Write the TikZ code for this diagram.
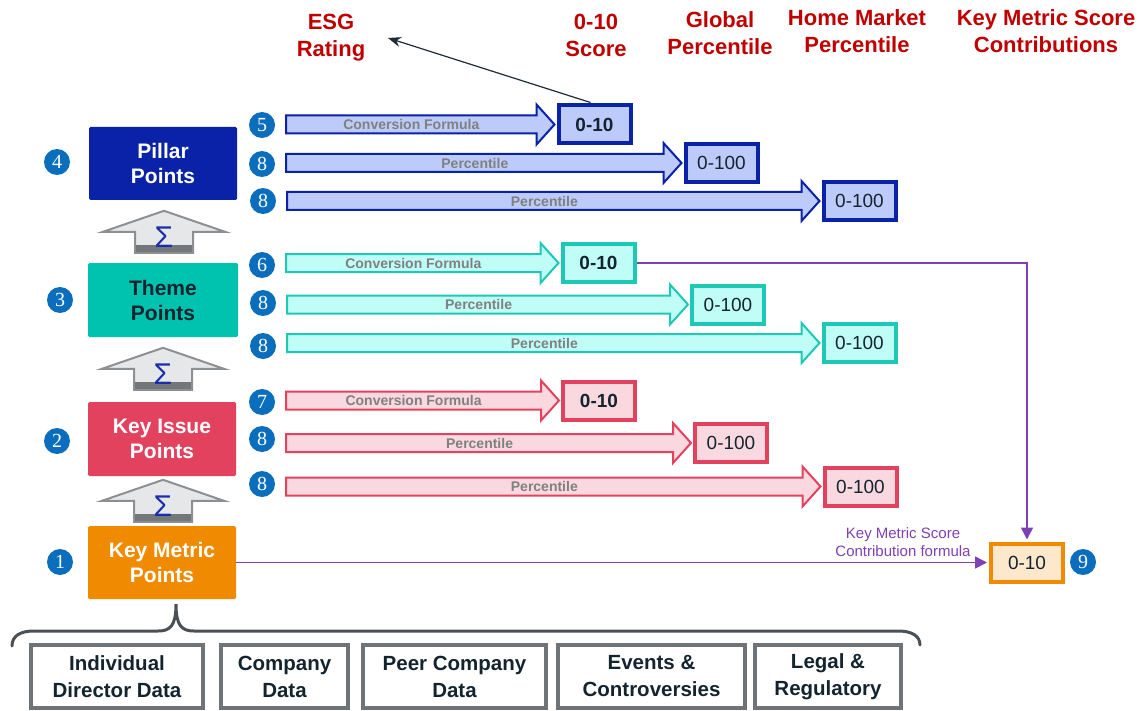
\documentclass[tikz,border=0pt]{standalone}
\usepackage{fontspec}
\setmainfont{Liberation Sans}
\newfontfamily\numfont{Liberation Serif}
\usetikzlibrary{calc,arrows.meta}
\definecolor{pillarc}{HTML}{0A22A8}
\definecolor{bluefill}{HTML}{BCCBF9}
\definecolor{themec}{HTML}{00C3AF}
\definecolor{tealc}{HTML}{1DC8B5}
\definecolor{tealfill}{HTML}{C0FDF6}
\definecolor{pinkc}{HTML}{E3425F}
\definecolor{pinkfill}{HTML}{F9D9DF}
\definecolor{orangec}{HTML}{F08A00}
\definecolor{orangefill}{HTML}{FDE8CC}
\definecolor{numblue}{HTML}{0A6EBD}
\definecolor{labred}{HTML}{C00000}
\definecolor{purp}{HTML}{7F3FB5}
\definecolor{txtgray}{HTML}{808080}
\definecolor{txtdark}{HTML}{14242F}
\definecolor{sigfill}{HTML}{E6E7E9}
\definecolor{sigdraw}{HTML}{8D9092}
\definecolor{sigstrip}{HTML}{73777A}
\definecolor{sigtext}{HTML}{1B2DA8}
\definecolor{datagray}{HTML}{6E7377}
\definecolor{bracegray}{HTML}{4B5055}
\definecolor{esgc}{HTML}{1E2B38}

% block arrow: style, number node, target box, label
\newcommand\blockarr[4]{%
  \draw[#1] let \p1=($(#2.east)+(11pt,0pt)$), \p2=(#3.west) in
    (\x1,\y2+9pt) -- (\x2-20pt,\y2+9pt) -- (\x2-20pt,\y2+20pt) -- (\x2-2pt,\y2)
    -- (\x2-20pt,\y2-20pt) -- (\x2-20pt,\y2-9pt) -- (\x1,\y2-9pt) -- cycle
    (\x1*0.5+\x2*0.5-10pt,\y2) node[arrlab] {#4};}
% summation arrow: lower node, bottom offset above lower node
\newcommand\sigup[2]{%
  \draw[sigarrow] let \p1=(#1.north) in
    (\x1+1pt,\y1+#2pt+42pt) -- (\x1+62pt,\y1+#2pt+21pt) -- (\x1+30pt,\y1+#2pt+21pt)
    -- (\x1+30pt,\y1+#2pt) -- (\x1-28pt,\y1+#2pt) -- (\x1-28pt,\y1+#2pt+21pt)
    -- (\x1-60pt,\y1+#2pt+21pt) -- cycle;
  \fill[sigstrip] let \p1=(#1.north) in
    (\x1-27pt,\y1+#2pt+0.7pt) rectangle (\x1+29pt,\y1+#2pt+8pt);
  \path let \p1=(#1.north) in
    (\x1+1pt,\y1+#2pt+16pt) node[sigtxt] {Σ};}

\begin{document}
\begin{tikzpicture}[x=1pt,y=-1pt,
  bigbox/.style={rounded corners=1.5pt, minimum width=148pt, minimum height=73pt,
    align=center, inner sep=0pt, font=\fontsize{21}{25}\selectfont\bfseries},
  valbox/.style={line width=4pt, minimum width=72pt, minimum height=38pt, inner sep=0pt,
    text=txtdark, font=\fontsize{19}{22}\selectfont},
  boldval/.style={font=\fontsize{19}{22}\selectfont\bfseries},
  numc/.style={circle, fill=numblue, text=white, minimum size=26pt, inner sep=0pt,
    font=\numfont\fontsize{20}{20}\selectfont},
  redlab/.style={text=labred, align=center, font=\fontsize{22}{27}\selectfont\bfseries},
  arrlab/.style={text=txtgray, font=\fontsize{14}{15}\selectfont\bfseries},
  barB/.style={draw=pillarc, fill=bluefill, line width=2pt, line join=miter},
  barT/.style={draw=tealc, fill=tealfill, line width=2pt, line join=miter},
  barP/.style={draw=pinkc, fill=pinkfill, line width=2pt, line join=miter},
  sigarrow/.style={draw=sigdraw, fill=sigfill, line width=2pt, line join=miter},
  sigtxt/.style={text=sigtext, font=\fontsize{30}{30}\selectfont},
  databox/.style={draw=datagray, line width=4pt, minimum height=63pt, inner sep=0pt,
    align=center, text=txtdark, font=\fontsize{20.5}{27}\selectfont\bfseries},
  purpline/.style={draw=purp, line width=1.5pt, -{Triangle[length=12pt,width=12pt]}, shorten >=2pt},
]
\useasboundingbox (0,0) rectangle (1139,711);

% top labels
\node[redlab] (lesg) at (331,37.5) {ESG\\Rating};
\node[redlab] (lscore) at (596,35) {0-10\\Score};
\node[redlab] (lglob) at (720,33.5) {Global\\Percentile};
\node[redlab] (lhome) at (857,31.5) {Home Market\\Percentile};
\node[redlab] (lkey) at (1046,31.5) {Key Metric Score\\Contributions};

% left boxes
\node[bigbox, fill=pillarc, text=white] (pillar) at (163,163.5) {Pillar\\Points};
\node[bigbox, fill=themec, text=txtdark, minimum width=150pt, minimum height=74pt] (theme) at (163,300) {Theme\\Points};
\node[bigbox, fill=pinkc, text=white, minimum height=74pt] (issue) at (162,439) {Key Issue\\Points};
\node[bigbox, fill=orangec, text=white] (metric) at (162,562.5) {Key Metric\\Points};

% left numbers
\node[numc] (n4) at (57,162) {4};
\node[numc] (n3) at (60,300) {3};
\node[numc] (n2) at (57,441) {2};
\node[numc] (n1) at (60,562) {1};

% summation arrows
\sigup{theme}{10}
\sigup{issue}{12}
\sigup{metric}{4}

% right numbers
\node[numc] (r5) at (262,125) {5};
\node[numc] (r8a) at (262,164) {8};
\node[numc] (r8b) at (263,201) {8};
\node[numc] (r6) at (262,265) {6};
\node[numc] (r8c) at (263,303) {8};
\node[numc] (r8d) at (263,346) {8};
\node[numc] (r7) at (262,402) {7};
\node[numc] (r8e) at (262,439) {8};
\node[numc] (r8f) at (262,484) {8};

% value boxes
\node[valbox, boldval, draw=pillarc, fill=bluefill] (B1) at (594.5,124.5) {0-10};
\node[valbox, draw=pillarc, fill=bluefill] (B2) at (721.5,163) {0-100};
\node[valbox, draw=pillarc, fill=bluefill] (B3) at (859.5,201) {0-100};
\node[valbox, boldval, draw=tealc, fill=tealfill] (T1) at (598.5,263) {0-10};
\node[valbox, draw=tealc, fill=tealfill] (T2) at (728,304.5) {0-100};
\node[valbox, draw=tealc, fill=tealfill] (T3) at (859.5,343) {0-100};
\node[valbox, boldval, draw=pinkc, fill=pinkfill] (P1) at (599,400.5) {0-10};
\node[valbox, draw=pinkc, fill=pinkfill] (P2) at (731,443) {0-100};
\node[valbox, draw=pinkc, fill=pinkfill] (P3) at (860.5,486.5) {0-100};
\node[valbox, draw=orangec, fill=orangefill] (O) at (1027,562.5) {0-10};
\node[numc] (r9) at (1083,562) {9};

% block arrows
\blockarr{barB}{r5}{B1}{Conversion Formula}
\blockarr{barB}{r8a}{B2}{Percentile}
\blockarr{barB}{r8b}{B3}{Percentile}
\blockarr{barT}{r6}{T1}{Conversion Formula}
\blockarr{barT}{r8c}{T2}{Percentile}
\blockarr{barT}{r8d}{T3}{Percentile}
\blockarr{barP}{r7}{P1}{Conversion Formula}
\blockarr{barP}{r8e}{P2}{Percentile}
\blockarr{barP}{r8f}{P3}{Percentile}

% ESG arrow
\coordinate (esgtip) at (388,38);
\draw[esgc, line width=1.2pt, -{Stealth[length=13pt,width=10pt]}] ([xshift=-4pt,yshift=1pt]B1.north) -- (esgtip);

% purple connectors
\draw[purpline] (T1.east) -| (O.north);
\draw[purpline] (metric.east) -- (O.west);
\node[text=purp, align=center, font=\fontsize{15}{18}\selectfont] (kmlab) at (903,542.5)
  {Key Metric Score\\Contribution formula};

% brace
\coordinate (bt) at ($(metric.south)+(14,5)$);
\draw[bracegray, line width=3pt, line cap=round]
  (12,646) .. controls (12,636) and (20,631) .. (34,631) -- (158,631)
  .. controls (170,631) and (176,626) .. (bt)
  .. controls (176,626) and (182,631) .. (194,631) -- (898,631)
  .. controls (912,631) and (920,636) .. (920,645);

% data boxes
\node[databox, minimum width=172pt] (d1) at (117,676.5) {Individual\\Director Data};
\node[databox, minimum width=127pt] (d2) at (284.5,676.5) {Company\\Data};
\node[databox, minimum width=183pt] (d3) at (454.5,676.5) {Peer Company\\Data};
\node[databox, minimum width=187pt] (d4) at (651.5,676.5) {Events \&\\Controversies};
\node[databox, minimum width=146pt] (d5) at (828,676.5) {Legal \&\\Regulatory};
\end{tikzpicture}
\end{document}
